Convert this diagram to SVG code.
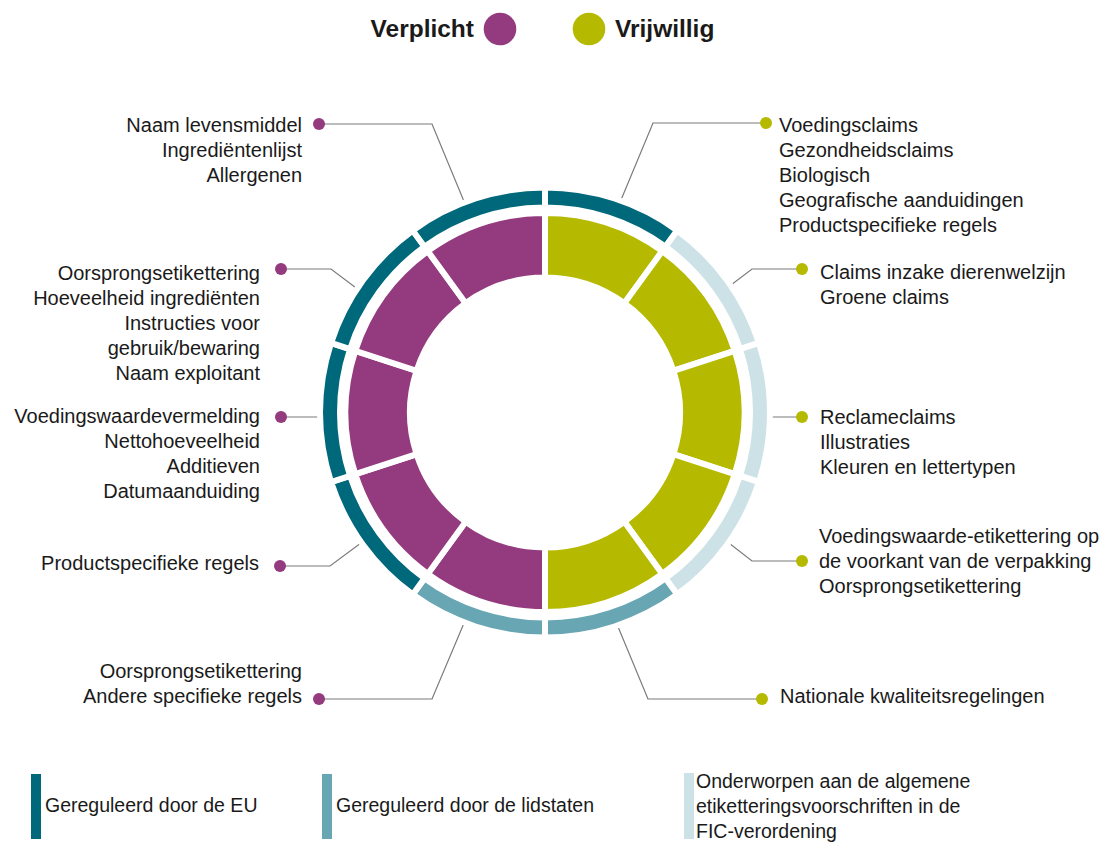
<svg xmlns="http://www.w3.org/2000/svg" width="1107" height="842" viewBox="0 0 1107 842">
<style>
text{font-family:"Liberation Sans",Arial,sans-serif;fill:#1a1a1a}
.lb{font-size:20px}
.le{font-size:19.5px}
.hd{font-size:24.5px;font-weight:bold}
.r{text-anchor:end}
.seg{stroke:#fff;stroke-width:6;stroke-linejoin:miter}
.pu{fill:#943A7E}
.ol{fill:#B5BA00}
.dk{fill:#00687B}
.md{fill:#69A6B3}
.lt{fill:#CDE2E7}
.ln{fill:none;stroke:#7a7a7a;stroke-width:1.2}
</style>
<rect width="1107" height="842" fill="#fff"/>

<g id="header">
<text class="hd r" x="474" y="37">Verplicht</text>
<circle class="pu" cx="500" cy="29" r="16.3"/>
<circle class="ol" cx="589" cy="29" r="16.3"/>
<text class="hd" x="615" y="37">Vrijwillig</text>
</g>

<g id="connectors">
<polyline class="ln" points="319,124 432,124 480,240"/>
<polyline class="ln" points="281,269 331,269 392,315"/>
<polyline class="ln" points="281,417 365,417"/>
<polyline class="ln" points="280,566 330,566 392,520"/>
<polyline class="ln" points="319,699 432,699 478,590"/>
<polyline class="ln" points="766,123 653,123 606,236"/>
<polyline class="ln" points="802,269 752,269 698,310"/>
<polyline class="ln" points="802,417 725,417"/>
<polyline class="ln" points="802,561 752,561 698,519"/>
<polyline class="ln" points="762,699 648,699 604,593"/>
</g>

<g id="band">
<path class="seg dk" d="M545,187.5 A225,225 0 0 1 677.25,230.47 L665.5,246.65 A205,205 0 0 0 545,207.5 Z"/>
<path class="seg lt" d="M677.25,230.47 A225,225 0 0 1 758.99,342.97 L739.97,349.15 A205,205 0 0 0 665.5,246.65 Z"/>
<path class="seg lt" d="M758.99,342.97 A225,225 0 0 1 758.99,482.03 L739.97,475.85 A205,205 0 0 0 739.97,349.15 Z"/>
<path class="seg lt" d="M758.99,482.03 A225,225 0 0 1 677.25,594.53 L665.5,578.35 A205,205 0 0 0 739.97,475.85 Z"/>
<path class="seg md" d="M677.25,594.53 A225,225 0 0 1 545,637.5 L545,617.5 A205,205 0 0 0 665.5,578.35 Z"/>
<path class="seg md" d="M545,637.5 A225,225 0 0 1 412.75,594.53 L424.5,578.35 A205,205 0 0 0 545,617.5 Z"/>
<path class="seg dk" d="M412.75,594.53 A225,225 0 0 1 331.01,482.03 L350.03,475.85 A205,205 0 0 0 424.5,578.35 Z"/>
<path class="seg dk" d="M331.01,482.03 A225,225 0 0 1 331.01,342.97 L350.03,349.15 A205,205 0 0 0 350.03,475.85 Z"/>
<path class="seg dk" d="M331.01,342.97 A225,225 0 0 1 412.75,230.47 L424.5,246.65 A205,205 0 0 0 350.03,349.15 Z"/>
<path class="seg dk" d="M412.75,230.47 A225,225 0 0 1 545,187.5 L545,207.5 A205,205 0 0 0 424.5,246.65 Z"/>
</g>

<g id="ring">
<path class="seg ol" d="M545,213 A199.5,199.5 0 0 1 662.26,251.1 L624.35,303.28 A135,135 0 0 0 545,277.5 Z"/>
<path class="seg ol" d="M662.26,251.1 A199.5,199.5 0 0 1 734.74,350.85 L673.39,370.78 A135,135 0 0 0 624.35,303.28 Z"/>
<path class="seg ol" d="M734.74,350.85 A199.5,199.5 0 0 1 734.74,474.15 L673.39,454.22 A135,135 0 0 0 673.39,370.78 Z"/>
<path class="seg ol" d="M734.74,474.15 A199.5,199.5 0 0 1 662.26,573.9 L624.35,521.72 A135,135 0 0 0 673.39,454.22 Z"/>
<path class="seg ol" d="M662.26,573.9 A199.5,199.5 0 0 1 545,612 L545,547.5 A135,135 0 0 0 624.35,521.72 Z"/>
<path class="seg pu" d="M545,612 A199.5,199.5 0 0 1 427.74,573.9 L465.65,521.72 A135,135 0 0 0 545,547.5 Z"/>
<path class="seg pu" d="M427.74,573.9 A199.5,199.5 0 0 1 355.26,474.15 L416.61,454.22 A135,135 0 0 0 465.65,521.72 Z"/>
<path class="seg pu" d="M355.26,474.15 A199.5,199.5 0 0 1 355.26,350.85 L416.61,370.78 A135,135 0 0 0 416.61,454.22 Z"/>
<path class="seg pu" d="M355.26,350.85 A199.5,199.5 0 0 1 427.74,251.1 L465.65,303.28 A135,135 0 0 0 416.61,370.78 Z"/>
<path class="seg pu" d="M427.74,251.1 A199.5,199.5 0 0 1 545,213 L545,277.5 A135,135 0 0 0 465.65,303.28 Z"/>
</g>

<g id="node-l1">
<circle class="pu" cx="319" cy="124" r="6"/>
<text class="lb r" x="302" y="132">Naam levensmiddel</text>
<text class="lb r" x="302" y="157">Ingrediëntenlijst</text>
<text class="lb r" x="302" y="182">Allergenen</text>
</g>
<g id="node-l2">
<circle class="pu" cx="281" cy="269" r="6"/>
<text class="lb r" x="260" y="280">Oorsprongsetikettering</text>
<text class="lb r" x="260" y="305">Hoeveelheid ingrediënten</text>
<text class="lb r" x="260" y="330">Instructies voor</text>
<text class="lb r" x="260" y="355">gebruik/bewaring</text>
<text class="lb r" x="260" y="380">Naam exploitant</text>
</g>
<g id="node-l3">
<circle class="pu" cx="281" cy="417" r="6"/>
<text class="lb r" x="260" y="423">Voedingswaardevermelding</text>
<text class="lb r" x="260" y="448">Nettohoeveelheid</text>
<text class="lb r" x="260" y="473">Additieven</text>
<text class="lb r" x="260" y="498">Datumaanduiding</text>
</g>
<g id="node-l4">
<circle class="pu" cx="280" cy="566" r="6"/>
<text class="lb r" x="259" y="570">Productspecifieke regels</text>
</g>
<g id="node-l5">
<circle class="pu" cx="319" cy="699" r="6"/>
<text class="lb r" x="302" y="678">Oorsprongsetikettering</text>
<text class="lb r" x="302" y="703">Andere specifieke regels</text>
</g>

<g id="node-r1">
<circle class="ol" cx="766" cy="123" r="6"/>
<text class="lb" x="779" y="132">Voedingsclaims</text>
<text class="lb" x="779" y="157">Gezondheidsclaims</text>
<text class="lb" x="779" y="182">Biologisch</text>
<text class="lb" x="779" y="207">Geografische aanduidingen</text>
<text class="lb" x="779" y="232">Productspecifieke regels</text>
</g>
<g id="node-r2">
<circle class="ol" cx="802" cy="269" r="6"/>
<text class="lb" x="820" y="279">Claims inzake dierenwelzijn</text>
<text class="lb" x="820" y="304">Groene claims</text>
</g>
<g id="node-r3">
<circle class="ol" cx="802" cy="417" r="6"/>
<text class="lb" x="820" y="424">Reclameclaims</text>
<text class="lb" x="820" y="449">Illustraties</text>
<text class="lb" x="820" y="474">Kleuren en lettertypen</text>
</g>
<g id="node-r4">
<circle class="ol" cx="802" cy="561" r="6"/>
<text class="lb" x="819" y="543">Voedingswaarde-etikettering op</text>
<text class="lb" x="819" y="568">de voorkant van de verpakking</text>
<text class="lb" x="819" y="593">Oorsprongsetikettering</text>
</g>
<g id="node-r5">
<circle class="ol" cx="762" cy="699" r="6"/>
<text class="lb" x="780" y="703">Nationale kwaliteitsregelingen</text>
</g>

<g id="legend">
<rect class="dk" x="31" y="774" width="10" height="65"/>
<text class="le" x="45" y="812">Gereguleerd door de EU</text>
<rect class="md" x="322" y="774" width="10" height="65"/>
<text class="le" x="336" y="812">Gereguleerd door de lidstaten</text>
<rect class="lt" x="684" y="773" width="10" height="66"/>
<text class="le" x="696" y="788">Onderworpen aan de algemene</text>
<text class="le" x="696" y="813">etiketteringsvoorschriften in de</text>
<text class="le" x="696" y="838">FIC-verordening</text>
</g>
</svg>
